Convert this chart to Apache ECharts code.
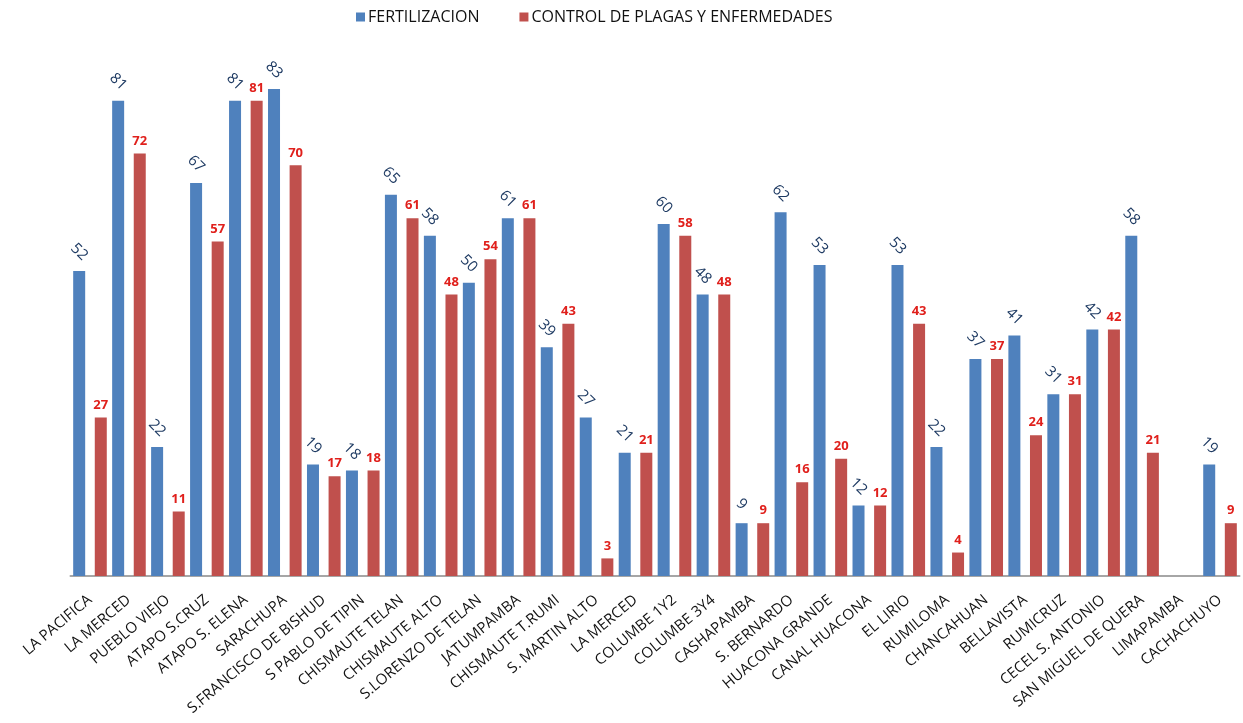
<!DOCTYPE html>
<html>
<head>
<meta charset="utf-8">
<script src="https://cdn.jsdelivr.net/npm/echarts@6/dist/echarts.min.js"></script>
<style>
html,body{margin:0;padding:0;background:#fff;}
#chart{width:1243px;height:723px;}
</style>
</head>
<body>
<div id="chart"></div>
<script>
const categories = ['LA PACIFICA','LA MERCED','PUEBLO VIEJO','ATAPO S.CRUZ','ATAPO S. ELENA','SARACHUPA','S.FRANCISCO DE BISHUD','S PABLO DE TIPIN','CHISMAUTE TELAN','CHISMAUTE ALTO','S.LORENZO DE TELAN','JATUMPAMBA','CHISMAUTE T.RUMI','S. MARTIN ALTO','LA MERCED','COLUMBE 1Y2','COLUMBE 3Y4','CASHAPAMBA','S. BERNARDO','HUACONA GRANDE','CANAL HUACONA','EL LIRIO','RUMILOMA','CHANCAHUAN','BELLAVISTA','RUMICRUZ','CECEL S. ANTONIO','SAN MIGUEL DE QUERA','LIMAPAMBA','CACHACHUYO'];
const fertilizacion = [52,81,22,67,81,83,19,18,65,58,50,61,39,27,21,60,48,9,62,53,12,53,22,37,41,31,42,58,null,19];
const controlPlagas = [27,72,11,57,81,70,17,18,61,48,54,61,43,3,21,58,48,9,16,20,12,43,4,37,24,31,42,21,null,9];
const seriesNames = ['FERTILIZACION','CONTROL DE PLAGAS Y ENFERMEDADES'];

const chart = echarts.init(document.getElementById('chart'));
chart.setOption({
  animation: false,
  textStyle: {fontFamily: 'Open Sans'},
  legend: {
    left: 351, top: 4,
    itemWidth: 9, itemHeight: 9, itemGap: 40,
    icon: 'rect',
    textStyle: {fontSize: 16, color: '#111', fontFamily: 'Open Sans', padding: [0,0,0,-2]},
    data: seriesNames
  },
  grid: {left: 70.5, right: 3.5, top: 48, bottom: 147, containLabel: false},
  xAxis: {
    type: 'category',
    data: categories,
    axisLine: {lineStyle: {color: '#a6a6a6', width: 2}},
    axisTick: {show: false},
    axisLabel: {rotate: 40, interval: 0, fontSize: 15, color: '#111', margin: 22, fontFamily: 'Open Sans'}
  },
  yAxis: {type: 'value', min: 0, max: 90, show: false, splitLine: {show: false}},
  series: [
    {
      name: seriesNames[0], type: 'bar', data: fertilizacion,
      barWidth: 12, barGap: '80%',
      itemStyle: {color: '#4F81BD'},
      label: {show: true, position: 'top', distance: 19, rotate: -45, align: 'center', verticalAlign: 'middle',
        fontSize: 15, color: '#1F3B63', fontFamily: 'Open Sans'}
    },
    {
      name: seriesNames[1], type: 'bar', data: controlPlagas,
      barWidth: 12,
      itemStyle: {color: '#C0504D'},
      label: {show: true, position: 'top', distance: 6, fontSize: 13, fontWeight: 'bold', color: '#E0201C', fontFamily: 'Open Sans'}
    }
  ]
});
</script>
</body>
</html>
